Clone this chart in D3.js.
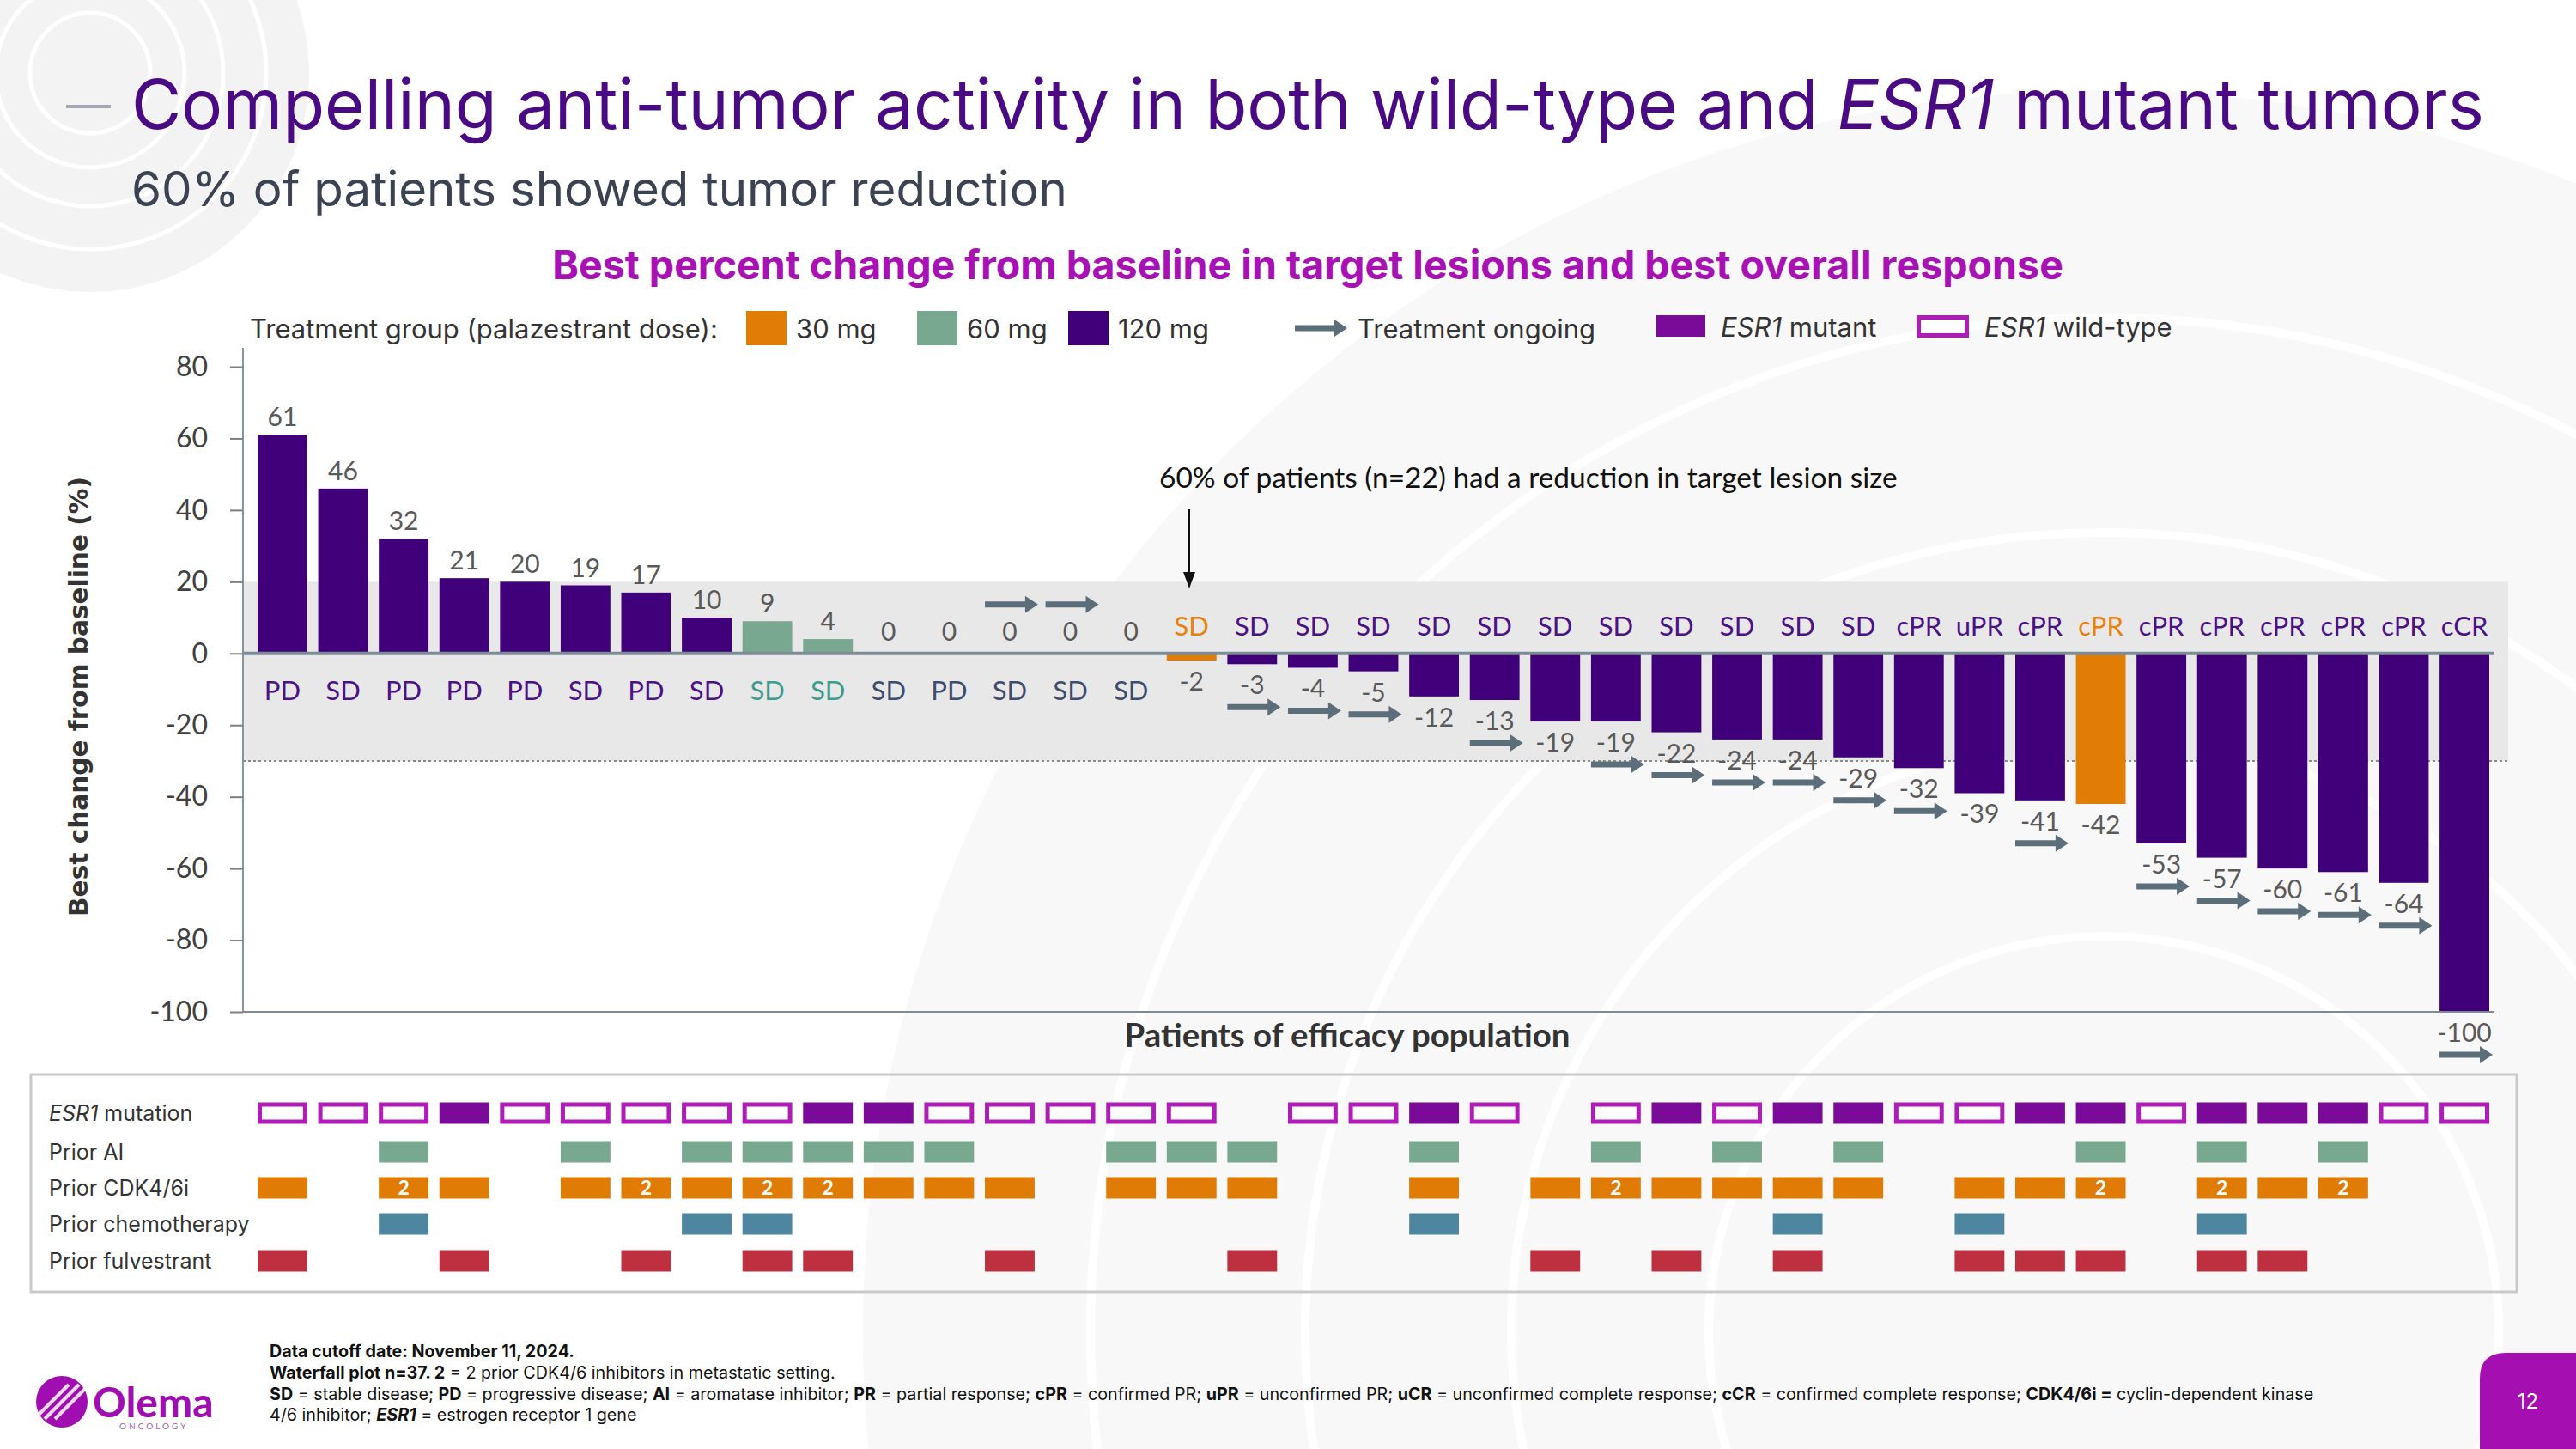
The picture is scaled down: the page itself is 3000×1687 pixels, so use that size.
<!DOCTYPE html>
<html>
<head>
<meta charset="utf-8">
<title>Waterfall plot</title>
<script src="https://d3js.org/d3.v7.min.js"></script>
<style>
  body { margin: 0; background: #fff; }
  .yaxis .domain { display: none; }
  .yaxis line { stroke: #7f7f7f; stroke-width: 2; }
  .yaxis text { font-family: Lato, sans-serif; font-size: 32px; fill: #404040; }
</style>
</head>
<body>
<script>
// ---- data (one entry per patient, left to right) ----
var values = [61,46,32,21,20,19,17,10,9,4,0,0,0,0,0,-2,-3,-4,-5,-12,-13,-19,-19,-22,-24,-24,-29,-32,-39,-41,-42,-53,-57,-60,-61,-64,-100];
var doses = [120,120,120,120,120,120,120,120,60,60,0,0,0,0,0,30,120,120,120,120,120,120,120,120,120,120,120,120,120,120,30,120,120,120,120,120,120];
var responses = ['PD','SD','PD','PD','PD','SD','PD','SD','SD','SD','SD','PD','SD','SD','SD',
  'SD','SD','SD','SD','SD','SD','SD','SD','SD','SD','SD','SD',
  'cPR','uPR','cPR','cPR','cPR','cPR','cPR','cPR','cPR','cCR'];
var ongoing = [0,0,0,0,0,0,0,0,0,0,0,0,1,1,0,0,1,1,1,0,1,0,1,1,1,1,1,1,0,1,0,1,1,1,1,1,1];
var esr1 = ['W','W','W','M','W','W','W','W','W','M','M','W','W','W','W','W','','W','W','M','W','','W','M','W','M','M','W','W','M','M','W','M','M','M','W','W'];
var priorAI = [0,0,1,0,0,1,0,1,1,1,1,1,0,0,1,1,1,0,0,1,0,0,1,0,1,0,1,0,0,0,1,0,1,0,1,0,0];
var priorCDK = [1,0,2,1,0,1,2,1,2,2,1,1,1,0,1,1,1,0,0,1,0,1,2,1,1,1,1,0,1,1,2,0,2,1,2,0,0];
var priorChemo = [0,0,1,0,0,0,0,1,1,0,0,0,0,0,0,0,0,0,0,1,0,0,0,0,0,1,0,0,1,0,0,0,1,0,0,0,0];
var priorFulv = [1,0,0,1,0,0,1,0,1,1,0,0,1,0,0,0,1,0,0,0,0,1,0,1,0,1,0,0,1,1,1,0,1,1,0,0,0];
var yTicks = [80,60,40,20,0,-20,-40,-60,-80,-100];
var rowLabels = ['ESR1 mutation','Prior AI','Prior CDK4/6i','Prior chemotherapy','Prior fulvestrant'];

var doseColor = {30:'#E17C05', 60:'#78A890', 120:'#40007A', 0:'#40007A'};
var respColor = {30:'#E8820C', 60:'#3E9C8E', 120:'#4B1186', 0:'#3E4C6E'};
var arrowColor = '#5B6E79';

var W = 3000, H = 1687;
var svg = d3.select('body').append('svg').attr('width', W).attr('height', H);

function fit(sel, w) {
  var L = sel.node().getComputedTextLength();
  var fs = parseFloat(sel.attr('font-size'));
  sel.attr('font-size', fs * w / L);
}
function arrowPath(x0, x1, yc) {
  return 'M' + x0 + ',' + (yc - 3.5) + 'L' + (x1 - 15) + ',' + (yc - 3.5) + 'L' + (x1 - 15) + ',' + (yc - 10) +
    'L' + x1 + ',' + yc + 'L' + (x1 - 15) + ',' + (yc + 10) + 'L' + (x1 - 15) + ',' + (yc + 3.5) + 'L' + x0 + ',' + (yc + 3.5) + 'Z';
}

// background decoration
var bg = svg.append('g');
bg.append('circle').attr('cx', 2450).attr('cy', 1550).attr('r', 1445).attr('fill', '#F8F8F9');
[1180, 930, 690, 460].forEach(function(r) {
  bg.append('circle').attr('cx', 2450).attr('cy', 1550).attr('r', r)
    .attr('fill', 'none').attr('stroke', '#fff').attr('stroke-width', 10);
});
bg.append('circle').attr('cx', 105).attr('cy', 85).attr('r', 255).attr('fill', '#F3F3F4');
[205, 155, 110, 70].forEach(function(r) {
  bg.append('circle').attr('cx', 105).attr('cy', 85).attr('r', r)
    .attr('fill', 'none').attr('stroke', '#fff').attr('stroke-width', 5);
});

// titles
svg.append('line').attr('x1', 77).attr('x2', 129).attr('y1', 124).attr('y2', 124)
  .attr('stroke', '#A3A7B2').attr('stroke-width', 4);
var t = svg.append('text').attr('x', 153).attr('y', 150).attr('font-family', 'Inter, sans-serif')
  .attr('font-size', 80).attr('fill', '#4A0A84');
t.append('tspan').text('Compelling anti-tumor activity in both wild-type and ');
t.append('tspan').attr('font-style', 'italic').text('ESR1');
t.append('tspan').text(' mutant tumors');
fit(t, 2740);
var st = svg.append('text').attr('x', 153).attr('y', 240).attr('font-family', 'Inter, sans-serif')
  .attr('font-size', 56).attr('fill', '#3B4252').text('60% of patients showed tumor reduction');
fit(st, 1090);
var ct = svg.append('text').attr('x', 1523).attr('y', 325).attr('text-anchor', 'middle')
  .attr('font-family', 'Inter, sans-serif').attr('font-weight', 700).attr('font-size', 44)
  .attr('fill', '#A812B5').text('Best percent change from baseline in target lesions and best overall response');
fit(ct, 1760);

// legend
var lg = svg.append('g').attr('font-family', 'Inter, sans-serif').attr('font-size', 31).attr('fill', '#333');
lg.append('text').attr('x', 291).attr('y', 394).text('Treatment group (palazestrant dose):');
[[30, 869, '30 mg'], [60, 1068, '60 mg'], [120, 1244, '120 mg']].forEach(function(d) {
  lg.append('rect').attr('x', d[1]).attr('y', 362).attr('width', 47).attr('height', 40).attr('fill', doseColor[d[0]]);
  lg.append('text').attr('x', d[1] + 58).attr('y', 394).text(d[2]);
});
lg.append('path').attr('d', arrowPath(1508, 1569, 382)).attr('fill', arrowColor);
lg.append('text').attr('x', 1581).attr('y', 394).text('Treatment ongoing');
lg.append('rect').attr('x', 1929).attr('y', 367).attr('width', 57).attr('height', 25).attr('fill', '#7A0A98');
var lm = lg.append('text').attr('x', 2004).attr('y', 392);
lm.append('tspan').attr('font-style', 'italic').text('ESR1');
lm.append('tspan').text(' mutant');
lg.append('rect').attr('x', 2234.5).attr('y', 369.5).attr('width', 56).attr('height', 21)
  .attr('fill', '#fff').attr('stroke', '#B01CB8').attr('stroke-width', 5);
var lw = lg.append('text').attr('x', 2311).attr('y', 392);
lw.append('tspan').attr('font-style', 'italic').text('ESR1');
lw.append('tspan').text(' wild-type');

// scales
var idx = d3.range(values.length);
var x = d3.scaleBand().domain(idx).range([300, 2899]).paddingInner(0.18);
var y = d3.scaleLinear().domain([80, -100]).range([427, 1178]);
var bw = x.bandwidth();

var plot = svg.append('g');
// grey band and -30% line
plot.append('rect').attr('x', 283).attr('y', y(20)).attr('width', 2921 - 283).attr('height', y(-30) - y(20)).attr('fill', '#E8E8E8');
plot.append('line').attr('x1', 283).attr('x2', 2921).attr('y1', y(-30)).attr('y2', y(-30))
  .attr('stroke', '#8a8a8a').attr('stroke-width', 2).attr('stroke-dasharray', '3,3');

// bars
plot.selectAll('rect.bar').data(idx.filter(function(i) { return values[i] !== 0; })).enter()
  .append('rect').attr('class', 'bar')
  .attr('x', function(i) { return x(i); })
  .attr('y', function(i) { return Math.min(y(values[i]), y(0)); })
  .attr('width', bw)
  .attr('height', function(i) { return Math.abs(y(values[i]) - y(0)); })
  .attr('fill', function(i) { return doseColor[doses[i]]; });

// axes
var yAxis = d3.axisLeft(y).tickValues(yTicks).tickSize(15).tickPadding(26)
  .tickFormat(function(d) { return String(d); });
svg.append('g').attr('class', 'yaxis').attr('transform', 'translate(283,0)').call(yAxis);
plot.append('line').attr('x1', 283).attr('x2', 283).attr('y1', 405).attr('y2', y(-100)).attr('stroke', '#8497A0').attr('stroke-width', 2);
plot.append('line').attr('x1', 283).attr('x2', 2905).attr('y1', y(-100)).attr('y2', y(-100)).attr('stroke', '#7C8B95').attr('stroke-width', 2);
plot.append('line').attr('x1', 283).attr('x2', 2905).attr('y1', y(0)).attr('y2', y(0)).attr('stroke', '#7C8B95').attr('stroke-width', 4);

// value labels
plot.selectAll('text.val').data(idx).enter().append('text').attr('class', 'val')
  .attr('x', function(i) { return x(i) + bw / 2; })
  .attr('y', function(i) {
    var v = values[i];
    if (v > 0) return y(v) - 10;
    if (v === 0) return y(0) - 15;
    return y(v) + 35;
  })
  .attr('text-anchor', 'middle').attr('font-family', 'Lato, sans-serif').attr('font-size', 30).attr('fill', '#595959')
  .text(function(i) { return values[i]; });

// response labels
plot.selectAll('text.resp').data(idx).enter().append('text').attr('class', 'resp')
  .attr('x', function(i) { return x(i) + bw / 2; })
  .attr('y', function(i) { return values[i] >= 0 ? y(0) + 54 : y(0) - 21; })
  .attr('text-anchor', 'middle').attr('font-family', 'Lato, sans-serif').attr('font-size', 31)
  .attr('fill', function(i) { return respColor[doses[i]]; })
  .text(function(i) { return responses[i]; });

// treatment ongoing arrows
plot.selectAll('path.ong').data(idx.filter(function(i) { return ongoing[i]; })).enter()
  .append('path').attr('class', 'ong').attr('fill', arrowColor)
  .attr('d', function(i) {
    var yc = values[i] < 0 ? y(values[i]) + 50 : y(0) - 57;
    return arrowPath(x(i), x(i) + bw + 4, yc);
  });

// annotation
var an = svg.append('text').attr('x', 1350).attr('y', 568).attr('font-family', 'Lato, sans-serif')
  .attr('font-size', 31).attr('fill', '#111').text('60% of patients (n=22) had a reduction in target lesion size');
fit(an, 860);
svg.append('line').attr('x1', 1385).attr('x2', 1385).attr('y1', 593).attr('y2', 668).attr('stroke', '#111').attr('stroke-width', 2);
svg.append('path').attr('d', 'M1378,666L1392,666L1385,685Z').attr('fill', '#111');

// axis titles
var yt = svg.append('text').attr('transform', 'translate(102,811) rotate(-90)').attr('text-anchor', 'middle')
  .attr('font-family', 'DejaVu Sans, sans-serif').attr('font-weight', 700).attr('font-size', 32).attr('fill', '#333')
  .text('Best change from baseline (%)');
fit(yt, 512);
var xt = svg.append('text').attr('x', 1569).attr('y', 1219).attr('text-anchor', 'middle')
  .attr('font-family', 'Lato, sans-serif').attr('font-weight', 700).attr('font-size', 35).attr('fill', '#333')
  .text('Patients of efficacy population');
fit(xt, 519);

// patient characteristics table
var tb = svg.append('g');
tb.append('rect').attr('x', 36).attr('y', 1251).attr('width', 2895).attr('height', 253)
  .attr('fill', 'none').attr('stroke', '#C9C9C9').attr('stroke-width', 3);
var rowY = [1296, 1341, 1383, 1425, 1468];
rowLabels.forEach(function(lbl, k) {
  var tx = tb.append('text').attr('x', 57).attr('y', rowY[k] + 9).attr('font-family', 'Inter, sans-serif')
    .attr('font-size', 25).attr('fill', '#333');
  if (k === 0) {
    tx.append('tspan').attr('font-style', 'italic').text('ESR1');
    tx.append('tspan').text(' mutation');
  } else tx.text(lbl);
});
var ch = 25;
tb.selectAll('rect.esr').data(idx.filter(function(i) { return esr1[i] !== ''; })).enter()
  .append('rect').attr('class', 'esr')
  .attr('x', function(i) { return esr1[i] === 'M' ? x(i) : x(i) + 2.5; })
  .attr('y', function(i) { return esr1[i] === 'M' ? rowY[0] - ch / 2 : rowY[0] - ch / 2 + 2.5; })
  .attr('width', function(i) { return esr1[i] === 'M' ? bw : bw - 5; })
  .attr('height', function(i) { return esr1[i] === 'M' ? ch : ch - 5; })
  .attr('fill', function(i) { return esr1[i] === 'M' ? '#7A0A98' : '#fff'; })
  .attr('stroke', function(i) { return esr1[i] === 'M' ? 'none' : '#B01CB8'; })
  .attr('stroke-width', 5);
[[priorAI, '#78A890'], [priorCDK, '#E07B05'], [priorChemo, '#4E86A0'], [priorFulv, '#BE3040']].forEach(function(r, k) {
  var arr = r[0];
  var cells = idx.filter(function(i) { return arr[i] > 0; });
  tb.selectAll('rect.r' + k).data(cells).enter().append('rect').attr('class', 'r' + k)
    .attr('x', function(i) { return x(i); }).attr('y', rowY[k + 1] - ch / 2)
    .attr('width', bw).attr('height', ch).attr('fill', r[1]);
  tb.selectAll('text.n' + k).data(cells.filter(function(i) { return arr[i] === 2; })).enter().append('text')
    .attr('class', 'n' + k).attr('x', function(i) { return x(i) + bw / 2; }).attr('y', rowY[k + 1] + 8)
    .attr('text-anchor', 'middle').attr('font-family', 'Lato, sans-serif').attr('font-weight', 700)
    .attr('font-size', 23).attr('fill', '#fff').text('2');
});

// footnotes
var fn = svg.append('g').attr('font-family', 'Inter, sans-serif').attr('fill', '#111');
var lines = [
  [['Data cutoff date: November 11, 2024.', 'b']],
  [['Waterfall plot n=37. 2', 'b'], [' = 2 prior CDK4/6 inhibitors in metastatic setting.', '']],
  [['SD', 'b'], [' = stable disease; ', ''], ['PD', 'b'], [' = progressive disease; ', ''], ['AI', 'b'], [' = aromatase inhibitor; ', ''],
   ['PR', 'b'], [' = partial response; ', ''], ['cPR', 'b'], [' = confirmed PR; ', ''], ['uPR', 'b'], [' = unconfirmed PR; ', ''],
   ['uCR', 'b'], [' = unconfirmed complete response; ', ''], ['cCR', 'b'], [' = confirmed complete response; ', ''],
   ['CDK4/6i =', 'b'], [' cyclin-dependent kinase', '']],
  [['4/6 inhibitor; ', ''], ['ESR1', 'bi'], [' = estrogen receptor 1 gene', '']]
];
var fnBase = [1580, 1605, 1630, 1654];
var fnNodes = lines.map(function(parts, k) {
  var tx = fn.append('text').attr('x', 314).attr('y', fnBase[k]).attr('font-size', 20);
  parts.forEach(function(p) {
    var ts = tx.append('tspan').text(p[0]);
    if (p[1].indexOf('b') >= 0) ts.attr('font-weight', 700);
    if (p[1].indexOf('i') >= 0) ts.attr('font-style', 'italic');
  });
  return tx;
});
fit(fnNodes[2], 2382);
var fs = fnNodes[2].attr('font-size');
fnNodes.forEach(function(n) { n.attr('font-size', fs); });

// logo
var logo = svg.append('g');
logo.append('circle').attr('cx', 72).attr('cy', 1632).attr('r', 30).attr('fill', '#A00DB0');
[-12, 0, 12].forEach(function(o) {
  logo.append('line').attr('x1', 52 + o).attr('y1', 1652).attr('x2', 92 + o).attr('y2', 1612)
    .attr('stroke', '#fff').attr('stroke-width', 4).attr('stroke-opacity', 0.85);
});
logo.append('text').attr('x', 108).attr('y', 1650).attr('font-family', 'Lato, sans-serif').attr('font-weight', 700)
  .attr('font-size', 48).attr('fill', '#A00DB0').text('Olema');
logo.append('text').attr('x', 139).attr('y', 1664).attr('font-family', 'Lato, sans-serif')
  .attr('font-size', 10).attr('letter-spacing', 3).attr('fill', '#A55DB0').text('ONCOLOGY');

// page number tab
svg.append('path').attr('d', 'M2888,1687L2888,1605Q2888,1575 2918,1575L3000,1575L3000,1687Z').attr('fill', '#A50FB2');
svg.append('text').attr('x', 2944).attr('y', 1640).attr('text-anchor', 'middle').attr('font-family', 'Inter, sans-serif')
  .attr('font-size', 24).attr('fill', '#fff').text('12');
</script>
</body>
</html>
